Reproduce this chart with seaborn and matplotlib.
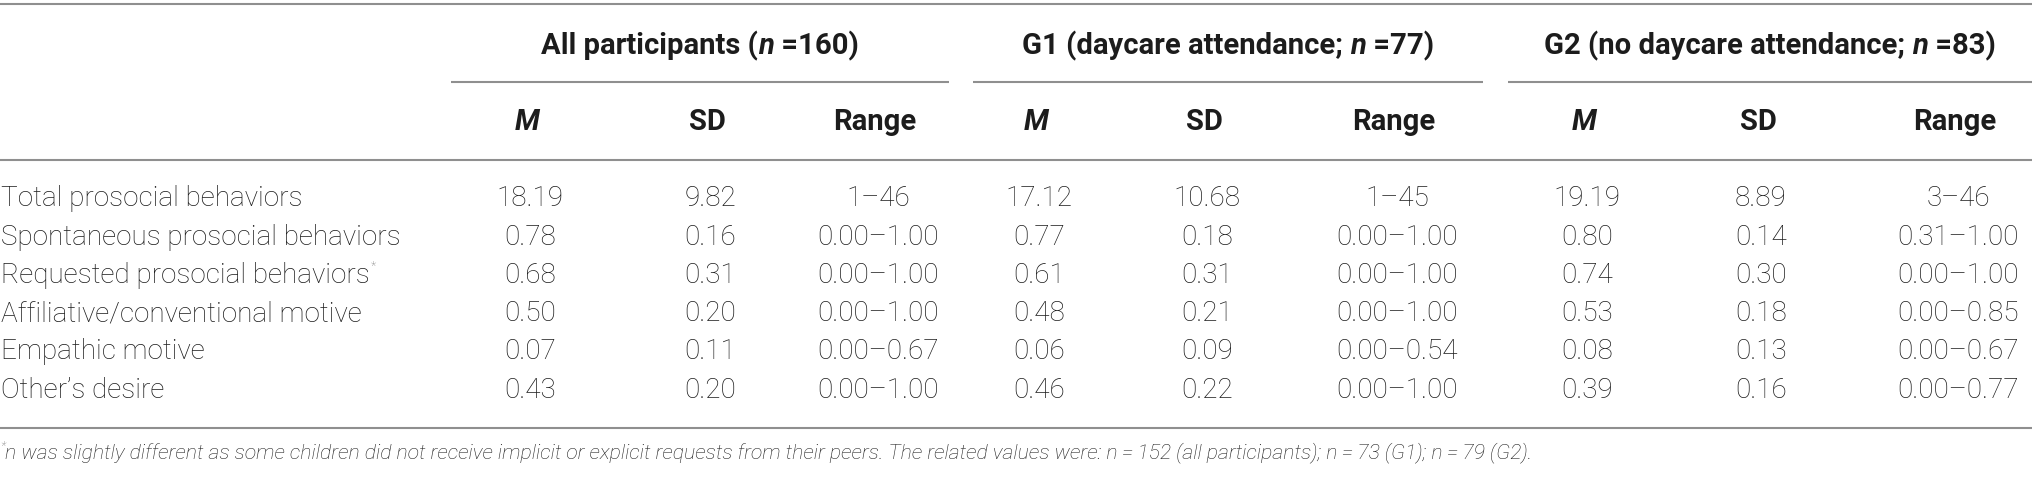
import numpy as np
import pandas as pd
import matplotlib
matplotlib.use("Agg")
import matplotlib.pyplot as plt
import seaborn as sns

# --- table content ---
row_labels = [
    "Total prosocial behaviors",
    "Spontaneous prosocial behaviors",
    "Requested prosocial behaviors",
    "Affiliative/conventional motive",
    "Empathic motive",
    "Other\u2019s desire",
]
starred_rows = [2]

group_titles = [
    ("All participants (", "n", " =160)"),
    ("G1 (daycare attendance; ", "n", " =77)"),
    ("G2 (no daycare attendance; ", "n", " =83)"),
]
sub_headers = ["M", "SD", "Range"]

all_m = ["18.19", "0.78", "0.68", "0.50", "0.07", "0.43"]
all_sd = ["9.82", "0.16", "0.31", "0.20", "0.11", "0.20"]
all_range = ["1\u201346", "0.00\u20131.00", "0.00\u20131.00", "0.00\u20131.00", "0.00\u20130.67", "0.00\u20131.00"]

g1_m = ["17.12", "0.77", "0.61", "0.48", "0.06", "0.46"]
g1_sd = ["10.68", "0.18", "0.31", "0.21", "0.09", "0.22"]
g1_range = ["1\u201345", "0.00\u20131.00", "0.00\u20131.00", "0.00\u20131.00", "0.00\u20130.54", "0.00\u20131.00"]

g2_m = ["19.19", "0.80", "0.74", "0.53", "0.08", "0.39"]
g2_sd = ["8.89", "0.14", "0.30", "0.18", "0.13", "0.16"]
g2_range = ["3\u201346", "0.31\u20131.00", "0.00\u20131.00", "0.00\u20130.85", "0.00\u20130.67", "0.00\u20130.77"]

footnote = ("n was slightly different as some children did not receive implicit or explicit "
            "requests from their peers. The related values were: n\u2009=\u2009152 (all participants); "
            "n\u2009=\u200973 (G1); n\u2009=\u200979 (G2).")

# --- layout (pixels) ---
W, H = 2032, 478
col_x = [530, 710, 878, 1039, 1207, 1397, 1587, 1761, 1958]
group_x = [700, 1228, 1770]
group_rules = [(451, 949), (973, 1483), (1508, 2032)]
row_y0, row_step = 199, 38.2
TEXT = "#1c1c1c"
RULE = "#8f8f8f"

sns.set_theme(style="white")
plt.rcParams["font.family"] = ["Roboto", "DejaVu Sans"]

fig = plt.figure(figsize=(W / 100, H / 100), dpi=100)
ax = fig.add_axes([0, 0, 1, 1])
ax.set_xlim(0, W)
ax.set_ylim(H, 0)
ax.axis("off")
renderer = fig.canvas.get_renderer()


def text_width(t):
    return t.get_window_extent(renderer=renderer).width


def fit_size(s, target, **kw):
    # font size that makes string s about target pixels wide
    t = ax.text(0, 0, s, fontsize=20, **kw)
    w = text_width(t)
    t.remove()
    return 20 * target / w


body_size = fit_size(row_labels[1], 400, fontweight="light")
head_size = fit_size("All participants (n =160)", 318, fontweight="bold")
foot_size = fit_size(footnote, 1520, fontweight="light", fontstyle="italic")


def pieces_centered(x, y, pieces, size):
    objs = []
    for s, style in pieces:
        objs.append(ax.text(0, y, s, fontsize=size, fontweight="bold", fontstyle=style,
                            color=TEXT, ha="left", va="center"))
    total = sum(text_width(o) for o in objs)
    cur = x - total / 2
    for o in objs:
        o.set_x(cur)
        cur += text_width(o)


# rules
for y in (4, 160, 428):
    ax.plot([0, W], [y, y], color=RULE, lw=1.5, solid_capstyle="butt")
for x0, x1 in group_rules:
    ax.plot([x0, x1], [82, 82], color=RULE, lw=1.5, solid_capstyle="butt")

# group titles
for gx, (a, n, b) in zip(group_x, group_titles):
    pieces_centered(gx, 46, [(a, "normal"), (n, "italic"), (b, "normal")], head_size)

# sub headers
for i, cx in enumerate(col_x):
    h = sub_headers[i % 3]
    ax.text(cx - 3, 122, h, fontsize=head_size, fontweight="bold",
            fontstyle="italic" if h == "M" else "normal",
            color=TEXT, ha="center", va="center")

# body
df = pd.DataFrame({
    "label": row_labels,
    "all_m": all_m, "all_sd": all_sd, "all_range": all_range,
    "g1_m": g1_m, "g1_sd": g1_sd, "g1_range": g1_range,
    "g2_m": g2_m, "g2_sd": g2_sd, "g2_range": g2_range,
})
value_cols = df.columns[1:]

for i, row in df.iterrows():
    y = row_y0 + i * row_step
    lab = ax.text(1, y, row["label"], fontsize=body_size, fontweight="light", color=TEXT,
                  ha="left", va="center")
    if i in starred_rows:
        ax.text(1 + text_width(lab) + 1, y - 9, "*", fontsize=9, fontweight="light",
                color="#777777", ha="left", va="center")
    for cx, c in zip(col_x, value_cols):
        ax.text(cx, y, row[c], fontsize=body_size, fontweight="light", color=TEXT,
                ha="center", va="center")

# footnote
star = ax.text(0, 446, "*", fontsize=9, fontweight="light", fontstyle="italic",
               color="#777777", ha="left", va="center")
ax.text(text_width(star), 453, footnote, fontsize=foot_size, fontweight="light",
        fontstyle="italic", color=TEXT, ha="left", va="center")

fig.savefig("out.png", dpi=100)
